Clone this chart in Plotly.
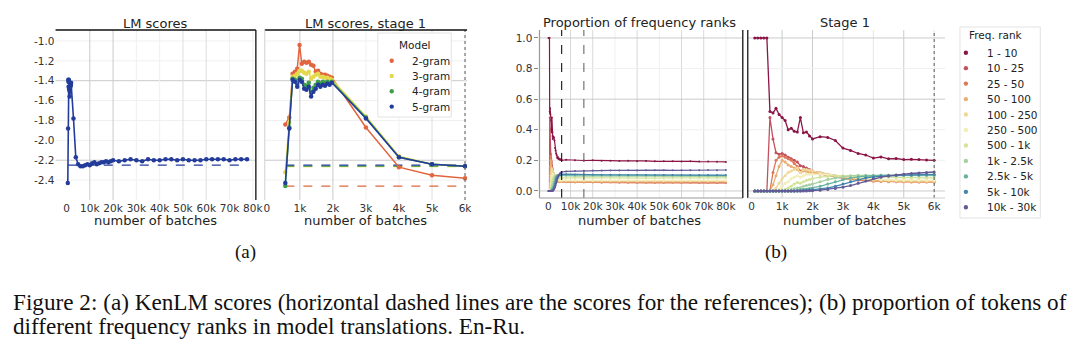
import plotly.graph_objects as go

W, H = 1080, 347

# ---------------- data ----------------
# (a) KenLM scores, stage 1 (per n-gram model)
lm_x = [560, 680, 780, 850, 920, 990, 1060, 1130, 1200, 1270, 1340, 1410, 1480, 1550,
        1620, 1690, 1760, 1830, 1900, 1970, 3000, 4000, 5000, 6000]
lm_2gram = [-1.84, -1.77, -1.33, -1.31, -1.28, -1.04, -1.23, -1.21, -1.22, -1.21, -1.24, -1.25,
            -1.31, -1.30, -1.33, -1.34, -1.34, -1.35, -1.36, -1.37, -1.87, -2.27, -2.35, -2.38]
lm_3gram = [-2.32, -1.82, -1.36, -1.35, -1.33, -1.30, -1.30, -1.32, -1.33, -1.31, -1.38, -1.36,
            -1.34, -1.33, -1.36, -1.36, -1.37, -1.37, -1.38, -1.39, -1.76, -2.16, -2.24, -2.26]
lm_4gram = [-2.46, -1.87, -1.38, -1.39, -1.43, -1.37, -1.38, -1.44, -1.45, -1.42, -1.52, -1.47,
            -1.44, -1.41, -1.43, -1.41, -1.42, -1.41, -1.42, -1.41, -1.77, -2.17, -2.24, -2.26]
lm_5gram = [-2.43, -1.88, -1.39, -1.41, -1.46, -1.39, -1.41, -1.48, -1.49, -1.46, -1.56, -1.51,
            -1.48, -1.44, -1.46, -1.44, -1.45, -1.43, -1.44, -1.42, -1.78, -2.17, -2.24, -2.26]
# (a) full run, 5-gram scores after stage 1
lm_late_x = [7000, 8000, 9000, 10000, 11000, 12000, 13000, 14000, 15000, 16000, 17000, 18000,
             19000, 20000, 22500, 25000, 27500, 30000, 32500, 35000, 37500, 40000, 42500, 45000,
             47500, 50000, 52500, 55000, 57500, 60000, 62500, 65000, 67500, 70000, 72500, 75000, 77500]
lm_late_5gram = [-2.26, -2.25, -2.24, -2.25, -2.23, -2.22, -2.24, -2.23, -2.22, -2.22, -2.21, -2.22,
                 -2.21, -2.20, -2.21, -2.20, -2.19, -2.20, -2.21, -2.19, -2.20, -2.20, -2.19, -2.19,
                 -2.20, -2.19, -2.20, -2.20, -2.20, -2.19, -2.19, -2.19, -2.19, -2.20, -2.19, -2.19, -2.19]
# reference scores (horizontal dashed lines)
ref_scores = [-2.46, -2.265, -2.26, -2.25]
lm_models = ["2-gram", "3-gram", "4-gram", "5-gram"]
lm_colors = ["#e2653f", "#e3d84e", "#3f9d4c", "#233c9b"]

# (b) proportion of frequency ranks, stage 1
fr_x = [100, 200, 300, 400, 500, 600, 700, 800, 900, 1000, 1100, 1200, 1300, 1400, 1500, 1600,
        1700, 1800, 1900, 2000, 2250, 2500, 2750, 3000, 3250, 3500, 3750, 4000, 4250, 4500,
        4750, 5000, 5250, 5500, 5750, 6000]
r_1_10 = [1, 1, 1, 1, 1, 0.52, 0.51, 0.54, 0.50, 0.48, 0.46, 0.40, 0.41, 0.39, 0.385, 0.48, 0.38,
          0.385, 0.36, 0.34, 0.355, 0.35, 0.33, 0.28, 0.265, 0.245, 0.235, 0.215, 0.222, 0.21,
          0.212, 0.205, 0.207, 0.205, 0.202, 0.20]
r_10_25 = [0, 0, 0, 0, 0, 0.48, 0.34, 0.25, 0.24, 0.245, 0.235, 0.22, 0.21, 0.2, 0.19, 0.165, 0.16,
           0.15, 0.14, 0.13, 0.12, 0.11, 0.1, 0.09, 0.082, 0.076, 0.072, 0.068, 0.066, 0.065,
           0.064, 0.064, 0.063, 0.063, 0.062, 0.062]
r_25_50 = [0, 0, 0, 0, 0, 0, 0.12, 0.2, 0.22, 0.23, 0.22, 0.21, 0.2, 0.18, 0.16, 0.13, 0.14, 0.13,
           0.12, 0.12, 0.11, 0.1, 0.09, 0.082, 0.076, 0.07, 0.066, 0.064, 0.062, 0.061, 0.06, 0.06,
           0.059, 0.059, 0.058, 0.058]
r_50_100 = [0, 0, 0, 0, 0, 0, 0.04, 0.1, 0.16, 0.2, 0.19, 0.17, 0.16, 0.15, 0.14, 0.12, 0.13, 0.13,
            0.125, 0.12, 0.115, 0.105, 0.095, 0.088, 0.08, 0.075, 0.07, 0.067, 0.065, 0.063,
            0.062, 0.061, 0.06, 0.06, 0.06, 0.059]
r_100_250 = [0, 0, 0, 0, 0, 0, 0, 0.02, 0.05, 0.08, 0.1, 0.12, 0.13, 0.14, 0.15, 0.12, 0.14, 0.14,
             0.135, 0.13, 0.12, 0.11, 0.1, 0.092, 0.085, 0.08, 0.076, 0.073, 0.071, 0.07, 0.068,
             0.067, 0.066, 0.066, 0.065, 0.065]
r_250_500 = [0, 0, 0, 0, 0, 0, 0, 0, 0.01, 0.03, 0.05, 0.06, 0.08, 0.09, 0.1, 0.09, 0.1, 0.11,
             0.11, 0.11, 0.11, 0.105, 0.1, 0.095, 0.09, 0.085, 0.08, 0.077, 0.075, 0.073, 0.072,
             0.071, 0.071, 0.07, 0.07, 0.07]
r_500_1k = [0, 0, 0, 0, 0, 0, 0, 0, 0, 0, 0.01, 0.02, 0.03, 0.045, 0.055, 0.05, 0.06, 0.07, 0.075,
            0.08, 0.09, 0.095, 0.1, 0.1, 0.098, 0.095, 0.093, 0.091, 0.09, 0.089, 0.088, 0.087,
            0.087, 0.086, 0.086, 0.085]
r_1k_2_5k = [0, 0, 0, 0, 0, 0, 0, 0, 0, 0, 0, 0, 0.01, 0.015, 0.02, 0.02, 0.03, 0.035, 0.04, 0.045,
             0.06, 0.075, 0.085, 0.095, 0.1, 0.102, 0.103, 0.103, 0.102, 0.102, 0.101, 0.101, 0.1,
             0.1, 0.1, 0.1]
r_2_5k_5k = [0, 0, 0, 0, 0, 0, 0, 0, 0, 0, 0, 0, 0, 0, 0.005, 0.008, 0.01, 0.012, 0.015, 0.02,
             0.03, 0.045, 0.06, 0.075, 0.085, 0.092, 0.097, 0.1, 0.102, 0.103, 0.103, 0.104,
             0.104, 0.104, 0.104, 0.104]
r_5k_10k = [0, 0, 0, 0, 0, 0, 0, 0, 0, 0, 0, 0, 0, 0, 0, 0, 0.003, 0.004, 0.006, 0.008, 0.012,
            0.02, 0.03, 0.045, 0.06, 0.075, 0.085, 0.092, 0.096, 0.1, 0.102, 0.104, 0.105, 0.106,
            0.107, 0.108]
r_10k_30k = [0, 0, 0, 0, 0, 0, 0, 0, 0, 0, 0, 0, 0, 0, 0, 0, 0, 0, 0.001, 0.002, 0.005, 0.01,
             0.016, 0.025, 0.035, 0.05, 0.065, 0.08, 0.09, 0.098, 0.105, 0.11, 0.114, 0.118,
             0.121, 0.124]
# (b) full run, after stage 1
fr_late_x = [8000, 12000, 16000, 20000, 24000, 28000, 32000, 36000, 40000, 44000, 48000, 52000,
             56000, 60000, 64000, 68000, 72000, 76000, 80000]
late_1_10 = [0.204, 0.201, 0.199, 0.2, 0.197, 0.198, 0.196, 0.197, 0.195, 0.196, 0.194, 0.195,
             0.195, 0.193, 0.194, 0.192, 0.193, 0.191, 0.19]
late_10_25 = [0.06, 0.059, 0.058, 0.058, 0.057, 0.058, 0.057, 0.057, 0.056, 0.057, 0.056, 0.056,
              0.057, 0.056, 0.055, 0.056, 0.055, 0.055, 0.055]
late_25_50 = [0.057, 0.056, 0.055, 0.055, 0.054, 0.055, 0.054, 0.054, 0.054, 0.053, 0.054, 0.053,
              0.053, 0.054, 0.053, 0.052, 0.053, 0.052, 0.052]
late_50_100 = [0.059, 0.06, 0.059, 0.06, 0.06, 0.059, 0.06, 0.06, 0.059, 0.06, 0.059, 0.06, 0.06,
               0.059, 0.06, 0.059, 0.059, 0.06, 0.059]
late_100_250 = [0.066, 0.065, 0.066, 0.065, 0.065, 0.066, 0.065, 0.065, 0.064, 0.065, 0.065,
                0.064, 0.065, 0.065, 0.064, 0.065, 0.064, 0.064, 0.065]
late_250_500 = [0.07, 0.071, 0.07, 0.07, 0.071, 0.07, 0.07, 0.07, 0.071, 0.07, 0.07, 0.069, 0.07,
                0.07, 0.07, 0.069, 0.07, 0.07, 0.069]
late_500_1k = [0.085, 0.084, 0.085, 0.085, 0.084, 0.085, 0.085, 0.084, 0.085, 0.085, 0.084, 0.085,
               0.085, 0.085, 0.084, 0.085, 0.085, 0.084, 0.085]
late_1k_2_5k = [0.098, 0.097, 0.096, 0.097, 0.096, 0.096, 0.097, 0.096, 0.096, 0.095, 0.096,
                0.096, 0.095, 0.096, 0.096, 0.095, 0.096, 0.095, 0.095]
late_2_5k_5k = [0.104, 0.103, 0.103, 0.102, 0.103, 0.102, 0.102, 0.103, 0.102, 0.102, 0.101,
                0.102, 0.102, 0.101, 0.102, 0.101, 0.101, 0.102, 0.101]
late_5k_10k = [0.11, 0.108, 0.107, 0.107, 0.106, 0.106, 0.106, 0.105, 0.106, 0.105, 0.105, 0.105,
               0.104, 0.105, 0.104, 0.104, 0.105, 0.104, 0.104]
late_10k_30k = [0.128, 0.13, 0.132, 0.133, 0.133, 0.134, 0.134, 0.135, 0.134, 0.135, 0.135, 0.136,
                0.135, 0.136, 0.136, 0.136, 0.137, 0.136, 0.137]

freq_labels = ["1 - 10", "10 - 25", "25 - 50", "50 - 100", "100 - 250", "250 - 500", "500 - 1k",
               "1k - 2.5k", "2.5k - 5k", "5k - 10k", "10k - 30k"]
freq_stage1 = [r_1_10, r_10_25, r_25_50, r_50_100, r_100_250, r_250_500, r_500_1k, r_1k_2_5k,
               r_2_5k_5k, r_5k_10k, r_10k_30k]
freq_late = [late_1_10, late_10_25, late_25_50, late_50_100, late_100_250, late_250_500,
             late_500_1k, late_1k_2_5k, late_2_5k_5k, late_5k_10k, late_10k_30k]
freq_colors = ["#8a1546", "#c2515d", "#de7859", "#e9ae74", "#efd999", "#f1eeb8", "#d3e39a",
               "#a6d0a2", "#69b2a0", "#4384ac", "#645997"]

stage_ends = [6000, 16000]

full_ticks = [0, 10000, 20000, 30000, 40000, 50000, 60000, 70000, 80000]
stage_ticks = [0, 1000, 2000, 3000, 4000, 5000, 6000]
lm_yticks = [-1.0, -1.2, -1.4, -1.6, -1.8, -2.0, -2.2, -2.4]
fr_yticks = [0.0, 0.2, 0.4, 0.6, 0.8, 1.0]


def ktext(v):
    return "0" if v == 0 else f"{v // 1000}k"


def px(x):
    return x / W


def py(y):
    return 1 - y / H


fig = go.Figure()

# ---- panel 1: LM scores, full run (5-gram) ----
full_x = lm_x + lm_late_x
full_y = lm_5gram + lm_late_5gram
fig.add_trace(go.Scatter(x=[full_x[0], full_x[-1]], y=[ref_scores[3]] * 2, mode="lines",
                         line=dict(color=lm_colors[3], width=1.2, dash="dash"),
                         xaxis="x", yaxis="y", showlegend=False, hoverinfo="skip"))
fig.add_trace(go.Scatter(x=full_x, y=full_y, mode="lines+markers",
                         line=dict(color=lm_colors[3], width=1.6),
                         marker=dict(size=4.5, color=lm_colors[3]),
                         xaxis="x", yaxis="y", showlegend=False, name="5-gram"))

# ---- panel 2: LM scores, stage 1 ----
lm_series = [lm_2gram, lm_3gram, lm_4gram, lm_5gram]
for name, ys, ref, col in zip(lm_models, lm_series, ref_scores, lm_colors):
    fig.add_trace(go.Scatter(x=[lm_x[0], lm_x[-1]], y=[ref, ref], mode="lines",
                             line=dict(color=col, width=1.3, dash="dash"),
                             xaxis="x2", yaxis="y2", showlegend=False, hoverinfo="skip"))
for name, ys, col in zip(lm_models, lm_series, lm_colors):
    fig.add_trace(go.Scatter(x=lm_x, y=ys, mode="lines+markers", name=name,
                             line=dict(color=col, width=1.5),
                             marker=dict(size=4.5, color=col),
                             xaxis="x2", yaxis="y2", showlegend=False))

# ---- panel 3 & 4: frequency ranks ----
for lab, s1, late, col in zip(freq_labels, freq_stage1, freq_late, freq_colors):
    fig.add_trace(go.Scatter(x=fr_x + fr_late_x, y=s1 + late, mode="lines+markers", name=lab,
                             line=dict(color=col, width=1.2), marker=dict(size=2, color=col),
                             xaxis="x3", yaxis="y3", showlegend=False))
    fig.add_trace(go.Scatter(x=fr_x, y=s1, mode="lines+markers", name=lab,
                             line=dict(color=col, width=1.3), marker=dict(size=3, color=col),
                             xaxis="x4", yaxis="y4", showlegend=False))

# ---- axes ----
tickfont = dict(family="DejaVu Sans", size=10.5, color="#333333")
common = dict(showgrid=False, zeroline=False, showline=False, tickfont=tickfont, ticks="")
xcommon = dict(common, tickangle=0)
y12_dom = [py(200), py(30)]
y34_dom = [py(198), py(30)]
lm_range = [-2.6, -0.89]
fr_range = [-0.046, 1.052]

fig.update_layout(
    xaxis=dict(domain=[px(55), px(257)], range=[-4700, 81300], anchor="y",
               tickvals=full_ticks, ticktext=[ktext(v) for v in full_ticks], **xcommon),
    yaxis=dict(domain=y12_dom, range=lm_range, anchor="x",
               tickvals=lm_yticks, ticktext=[f"{v:.1f}" for v in lm_yticks], **common),
    xaxis2=dict(domain=[px(266), px(470)], range=[-62, 6062], anchor="y2",
                tickvals=stage_ticks, ticktext=[ktext(v) for v in stage_ticks], **xcommon),
    yaxis2=dict(domain=y12_dom, range=lm_range, anchor="x2", tickvals=lm_yticks,
                showticklabels=False, **common),
    xaxis3=dict(domain=[px(543), px(748)], range=[-4000, 87600], anchor="y3",
                tickvals=full_ticks, ticktext=[ktext(v) for v in full_ticks], **xcommon),
    yaxis3=dict(domain=y34_dom, range=fr_range, anchor="x3",
                tickvals=fr_yticks, ticktext=[f"{v:.1f}" for v in fr_yticks],
                **{**common, "ticks": "outside", "ticklen": 4, "tickcolor": "#888888"}),
    xaxis4=dict(domain=[px(753), px(952)], range=[-130, 6358], anchor="y4",
                tickvals=stage_ticks, ticktext=[ktext(v) for v in stage_ticks], **xcommon),
    yaxis4=dict(domain=y34_dom, range=fr_range, anchor="x4", tickvals=fr_yticks,
                showticklabels=False, **common),
)

shapes = []
annotations = []

axis_dom = {
    "x": [px(55), px(257)], "x2": [px(266), px(470)],
    "x3": [px(543), px(748)], "x4": [px(753), px(952)],
    "y": y12_dom, "y2": y12_dom, "y3": y34_dom, "y4": y34_dom,
}


def hline(ax, ay, v, color, width=1, dash="solid", layer="below"):
    d = axis_dom[ax]
    shapes.append(dict(type="line", xref="paper", x0=d[0], x1=d[1], yref=ay, y0=v, y1=v,
                       line=dict(color=color, width=width, dash=dash), layer=layer))


def vline(ax, ay, v, color, width=1, dash="solid", layer="below"):
    d = axis_dom[ay]
    shapes.append(dict(type="line", yref="paper", y0=d[0], y1=d[1], xref=ax, x0=v, x1=v,
                       line=dict(color=color, width=width, dash=dash), layer=layer))


# grid lines (some rendered stronger, as in the reference)
light = "#f0f0f0"
dark = "#cacaca"
for v in lm_yticks:
    hline("x", "y", v, dark if v in (-1.4, -2.2) else light)
    hline("x2", "y2", v, dark if v in (-1.4, -2.2) else light)
for v in full_ticks[1:]:
    vline("x", "y", v, dark if v in (10000, 20000) else ("#dedede" if v in (50000, 60000) else light))
    vline("x3", "y3", v, "#d8d8d8" if v in (10000, 20000, 40000, 60000, 70000) else light)
for v in stage_ticks[1:]:
    vline("x2", "y2", v, dark if v in (1000, 2000) else ("#dedede" if v == 5000 else light))
    vline("x4", "y4", v, dark if v in (1000, 2000, 5000) else "#e6e6e6")
for v in fr_yticks:
    hline("x3", "y3", v, dark if v in (1.0, 0.6, 0.0) else light)
    hline("x4", "y4", v, dark if v in (1.0, 0.6, 0.0) else light)

# stage boundaries (vertical dashed)
vline("x2", "y2", stage_ends[0], "#666666", 1.1, "dot", "above")
vline("x3", "y3", stage_ends[0], "#111111", 1.1, "dash", "above")
vline("x3", "y3", stage_ends[1], "#666666", 1.1, "dash", "above")
vline("x4", "y4", stage_ends[0], "#666666", 1.1, "dot", "above")


# spines
def spine(ax, ay, side, color, width=1.3):
    dx, dy = axis_dom[ax], axis_dom[ay]
    if side in ("top", "bottom"):
        yv = dy[1] if side == "top" else dy[0]
        shapes.append(dict(type="line", xref="paper", yref="paper", x0=dx[0], x1=dx[1],
                           y0=yv, y1=yv, line=dict(color=color, width=width), layer="above"))
    else:
        xv = dx[1] if side == "right" else dx[0]
        shapes.append(dict(type="line", xref="paper", yref="paper", x0=xv, x1=xv,
                           y0=dy[0], y1=dy[1], line=dict(color=color, width=width), layer="above"))


spine("x", "y", "top", "#111111")
spine("x", "y", "right", "#111111")
spine("x2", "y2", "top", "#111111")
spine("x2", "y2", "left", "#d0d0d0", 1)
spine("x3", "y3", "left", "#999999", 1.2)
spine("x3", "y3", "bottom", "#999999", 1.2)
spine("x3", "y3", "right", "#333333", 1.5)
spine("x4", "y4", "left", "#333333", 1.5)
spine("x4", "y4", "bottom", "#d0d0d0", 1)


def text(t, x, y, size, family="DejaVu Sans", color="#222222", xanchor="center"):
    annotations.append(dict(text=t, x=px(x), y=py(y), xref="paper", yref="paper",
                            showarrow=False, xanchor=xanchor, yanchor="middle",
                            font=dict(family=family, size=size, color=color)))


# titles and axis labels
text("LM scores", 156, 23, 13)
text("LM scores, stage 1", 368, 23, 13)
text("Proportion of frequency ranks", 644, 22, 13)
text("Stage 1", 851, 22, 13)
for cx in (156, 368, 644, 851):
    text("number of batches", cx, 220, 13)


# legends (drawn manually to match matplotlib spacing)
def legend(box, title, title_xy, labels, colors, dot_x, text_x, y0, dy):
    x0, y0b, x1, y1b = box
    shapes.append(dict(type="rect", xref="paper", yref="paper", x0=px(x0), x1=px(x1),
                       y0=py(y1b), y1=py(y0b), fillcolor="rgba(255,255,255,0.92)",
                       line=dict(color="#e2e2e2", width=1), layer="above"))
    text(title, title_xy[0], title_xy[1], 10.5)
    for i, (lab, col) in enumerate(zip(labels, colors)):
        yy = y0 + i * dy
        r = 2.2
        shapes.append(dict(type="circle", xref="paper", yref="paper",
                           x0=px(dot_x - r), x1=px(dot_x + r), y0=py(yy + r), y1=py(yy - r),
                           fillcolor=col, line=dict(color=col, width=0), layer="above"))
        text(lab, text_x, yy, 10.5, xanchor="left")


legend((380, 33, 454, 117), "Model", (417, 45), lm_models, lm_colors, 394, 412, 60.7, 15.3)
legend((967, 27, 1048, 218), "Freq. rank", (1003, 35), freq_labels, freq_colors, 973, 992, 52.7, 15.46)

# sub-figure labels and caption
serif = "Liberation Serif"
text("(a)", 247, 252, 19, serif, "#111111")
text("(b)", 782, 252, 19, serif, "#111111")
text("Figure 2: (a) KenLM scores (horizontal dashed lines are the scores for the references); "
     "(b) proportion of tokens of", 10, 302, 23.2, serif, "#111111", "left")
text("different frequency ranks in model translations. En-Ru.", 10, 326, 23.2, serif, "#111111",
     "left")

fig.update_layout(
    width=W, height=H, autosize=False,
    margin=dict(l=0, r=0, t=0, b=0, pad=0),
    paper_bgcolor="white", plot_bgcolor="rgba(0,0,0,0)",
    showlegend=False,
    shapes=shapes, annotations=annotations,
    font=dict(family="DejaVu Sans"),
)

fig.write_html("out.html")
